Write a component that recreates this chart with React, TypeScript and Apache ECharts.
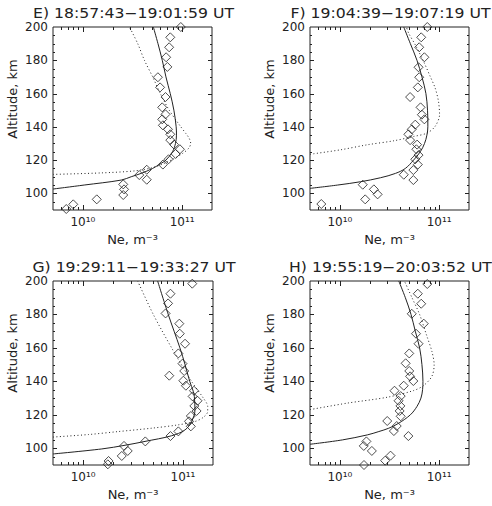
import React, { useEffect, useRef } from 'react';
import * as echarts from 'echarts';

// ---- axis ranges ----
const X_MIN = 5e9;
const X_MAX = 2e11;
const Y_MIN = 90;
const Y_MAX = 200;

// tick positions drawn inside the frame (all four sides)
const xMajorTicks = [1e10, 1e11];
const xMinorTicks = [6e9, 7e9, 8e9, 9e9, 2e10, 3e10, 4e10, 5e10, 6e10, 7e10, 8e10, 9e10];
const yMajorTicks = [100, 120, 140, 160, 180];
const yMinorTicks = [95, 105, 110, 115, 125, 130, 135, 145, 150, 155, 165, 170, 175, 185, 190, 195];

const titles = [
  'E) 18:57:43\u221219:01:59 UT',
  'F) 19:04:39\u221219:07:19 UT',
  'G) 19:29:11\u221219:33:27 UT',
  'H) 19:55:19\u221220:03:52 UT',
];

// ---- E ----
const obsAltE = [200, 193.8, 187.8, 181.8, 176, 169.8, 163.7, 157.9, 151.7, 147.5, 144.5, 140.9, 138.5, 135.5, 132, 129.3, 126.5, 123.7, 120.5, 117.3, 114.2, 111, 108.2, 105.4, 102.4, 99, 96.4, 93.4, 90.6];
const obsNeE = [9.7e10, 7.6e10, 7.4e10, 6.9e10, 7.1e10, 5.7e10, 6.0e10, 6.8e10, 6.3e10, 6.8e10, 6.3e10, 6.4e10, 7.2e10, 7.6e10, 7.6e10, 8.3e10, 9.5e10, 8.6e10, 7.3e10, 6.4e10, 4.4e10, 3.7e10, 4.4e10, 2.55e10, 2.6e10, 2.55e10, 1.38e10, 8.0e9, 6.8e9];
const solidAltE = [102.6, 105, 108, 110, 112, 115, 118, 120, 125, 130, 135, 140, 150, 160, 170, 180, 190, 200];
const solidNeE = [5.0e9, 1.03e10, 2.44e10, 3.07e10, 3.86e10, 5.05e10, 6.12e10, 6.87e10, 8.0e10, 8.57e10, 8.77e10, 8.71e10, 8.26e10, 7.59e10, 6.87e10, 6.31e10, 5.71e10, 5.13e10];
const dottedAltE = [111.4, 112.3, 113.5, 115.5, 118, 121, 124, 127, 130, 133, 136, 140, 150, 160, 170, 180, 190, 200];
const dottedNeE = [5.0e9, 1.54e10, 3.31e10, 5.05e10, 6.61e10, 8.32e10, 1.01e11, 1.16e11, 1.22e11, 1.18e11, 1.09e11, 9.7e10, 7.41e10, 6.03e10, 5.05e10, 4.17e10, 3.57e10, 2.95e10];

// ---- F ----
const obsAltF = [200, 193.8, 187.8, 181.8, 175.8, 169.8, 163.7, 157.9, 151.7, 147.3, 144.5, 141.3, 138.5, 135.5, 132, 129.3, 126.5, 123, 120.5, 117.3, 114, 111.2, 108, 105.2, 102.4, 99.4, 96.4, 93.6];
const obsNeF = [7.6e10, 6.6e10, 6.3e10, 7.1e10, 6.2e10, 6.3e10, 6.1e10, 5.1e10, 6.5e10, 6.7e10, 7.1e10, 5.75e10, 5.3e10, 4.9e10, 5.1e10, 6.0e10, 5.9e10, 6.2e10, 5.75e10, 6.1e10, 5.5e10, 4.4e10, 5.5e10, 1.7e10, 2.2e10, 2.4e10, 1.8e10, 6.5e9];
const solidAltF = [103, 105, 107, 109.4, 112, 115, 120, 125, 130, 135, 140, 150, 160, 170, 180, 190, 200];
const solidNeF = [5.0e9, 9.5e9, 1.62e10, 2.57e10, 3.63e10, 4.57e10, 5.53e10, 6.46e10, 7.13e10, 7.53e10, 7.7e10, 7.64e10, 7.36e10, 6.71e10, 5.98e10, 5.13e10, 4.4e10];
const dottedAltF = [123.5, 126.2, 129.2, 131.6, 134.2, 136.2, 140.3, 147.3, 155.3, 163.3, 170.3, 179.3, 189.3, 196.3, 200];
const dottedNeF = [5.0e9, 1.02e10, 1.89e10, 3.49e10, 5.53e10, 7.53e10, 9.12e10, 1.01e11, 9.85e10, 9.12e10, 8.13e10, 6.97e10, 5.75e10, 4.93e10, 4.68e10];

// ---- G ----
const obsAltG = [198.4, 192.4, 186.6, 180.6, 174.5, 168.5, 162.5, 156.7, 150.6, 146.2, 143.4, 140.4, 137.4, 134.4, 131, 128.4, 125.3, 122.3, 119.3, 116.1, 113.1, 110.1, 107.3, 104.1, 101.4, 98.4, 95.4, 92.4, 90.4];
const obsNeG = [1.24e11, 7.5e10, 7.1e10, 6.7e10, 9.2e10, 9.3e10, 1.05e11, 9.0e10, 9.9e10, 1.03e11, 7.3e10, 1.01e11, 1.07e11, 1.29e11, 1.25e11, 1.4e11, 1.3e11, 1.37e11, 1.2e11, 1.15e11, 1.2e11, 9.0e10, 7.5e10, 4.2e10, 2.57e10, 2.8e10, 2.44e10, 1.8e10, 1.77e10];
const solidAltG = [96.6, 99.6, 101.8, 104.1, 107.5, 111, 116, 123, 131, 134, 140, 150, 160, 180, 200];
const solidNeG = [5.0e9, 1.54e10, 2.63e10, 4.17e10, 7.71e10, 1.05e11, 1.22e11, 1.32e11, 1.3e11, 1.27e11, 1.17e11, 1.05e11, 9.33e10, 7.13e10, 5.58e10];
const dottedAltG = [106.7, 108.2, 110, 112, 114, 116, 118.5, 122, 125, 130, 140, 160, 180, 200];
const dottedNeG = [5.0e9, 1.13e10, 2.26e10, 4.86e10, 8.98e10, 1.32e11, 1.6e11, 1.77e11, 1.77e11, 1.6e11, 1.22e11, 7.71e10, 5.05e10, 3.52e10];

// ---- H ----
const obsAltH = [198.2, 192.4, 186.4, 180.4, 174.5, 168.5, 162.5, 156.7, 150.8, 146.2, 143, 140.2, 137.4, 134.4, 131.2, 128.4, 125.3, 122.3, 119.1, 116.3, 113.3, 110.3, 107.3, 104.1, 101.4, 98.4, 95.6, 92.6, 90];
const obsNeH = [7.6e10, 6.1e10, 6.6e10, 5.3e10, 7.0e10, 5.85e10, 6.2e10, 5.0e10, 4.6e10, 5.0e10, 5.1e10, 5.5e10, 4.4e10, 3.55e10, 4.1e10, 3.9e10, 4.07e10, 4.0e10, 4.1e10, 3.0e10, 3.74e10, 3.5e10, 4.9e10, 1.85e10, 1.74e10, 2.1e10, 3.24e10, 2.86e10, 1.75e10];
const solidAltH = [102.4, 105, 108, 110, 112, 115, 120, 125, 130, 135, 140, 150, 160, 170, 180, 190, 200];
const solidNeH = [5.0e9, 1.06e10, 1.89e10, 2.47e10, 3.11e10, 3.92e10, 5.13e10, 5.98e10, 6.56e10, 6.81e10, 6.87e10, 6.71e10, 6.36e10, 5.75e10, 5.21e10, 4.57e10, 3.92e10];
const dottedAltH = [123.1, 127, 130.5, 134.5, 137.5, 143, 150, 158, 167, 180, 190, 200];
const dottedNeH = [5.0e9, 1.19e10, 3.0e10, 5.53e10, 6.97e10, 8.45e10, 8.91e10, 8.45e10, 7.53e10, 6.36e10, 5.33e10, 4.47e10];

const panels = [
  { obsAlt: obsAltE, obsNe: obsNeE, solidAlt: solidAltE, solidNe: solidNeE, dottedAlt: dottedAltE, dottedNe: dottedNeE },
  { obsAlt: obsAltF, obsNe: obsNeF, solidAlt: solidAltF, solidNe: solidNeF, dottedAlt: dottedAltF, dottedNe: dottedNeF },
  { obsAlt: obsAltG, obsNe: obsNeG, solidAlt: solidAltG, solidNe: solidNeG, dottedAlt: dottedAltG, dottedNe: dottedNeG },
  { obsAlt: obsAltH, obsNe: obsNeH, solidAlt: solidAltH, solidNe: solidNeH, dottedAlt: dottedAltH, dottedNe: dottedNeH },
];

// plot frames: left, top, width, height (px)
const boxes = [
  [53, 27, 159, 183],
  [310, 27, 159, 183],
  [53, 281, 160, 184],
  [310, 281, 159, 184],
];

const INK = '#222';
const FONT = '"DejaVu Sans", "Liberation Sans", sans-serif';

const SUP: Record<string, string> = {
  '0': '\u2070', '1': '\u00b9', '2': '\u00b2', '3': '\u00b3', '4': '\u2074',
  '5': '\u2075', '6': '\u2076', '7': '\u2077', '8': '\u2078', '9': '\u2079', '-': '\u207b',
};
const sup = (n: number) => String(n).split('').map((c) => SUP[c] || c).join('');

const pairs = (xs: number[], ys: number[]) => xs.map((x, k) => [x, ys[k]]);

const seg = (x1: number, y1: number, x2: number, y2: number) => ({
  type: 'line',
  shape: { x1, y1, x2, y2 },
  style: { stroke: INK, lineWidth: 1 },
});

function tickSeries(i: number) {
  return {
    type: 'custom',
    xAxisIndex: i,
    yAxisIndex: i,
    silent: true,
    z: 10,
    data: [[1e10, 150]],
    renderItem: (_p: any, api: any) => {
      const [xl, yb] = api.coord([X_MIN, Y_MIN]);
      const [xr, yt] = api.coord([X_MAX, Y_MAX]);
      const out: any[] = [];
      xMajorTicks.forEach((v) => {
        const x = Math.round(api.coord([v, Y_MIN])[0]) + 0.5;
        out.push(seg(x, yb, x, yb - 5), seg(x, yt, x, yt + 5));
      });
      xMinorTicks.forEach((v) => {
        const x = Math.round(api.coord([v, Y_MIN])[0]) + 0.5;
        out.push(seg(x, yb, x, yb - 3), seg(x, yt, x, yt + 3));
      });
      yMajorTicks.forEach((v) => {
        const y = Math.round(api.coord([X_MIN, v])[1]) + 0.5;
        out.push(seg(xl, y, xl + 4, y), seg(xr, y, xr - 4, y));
      });
      yMinorTicks.forEach((v) => {
        const y = Math.round(api.coord([X_MIN, v])[1]) + 0.5;
        out.push(seg(xl, y, xl + 2, y), seg(xr, y, xr - 2, y));
      });
      return { type: 'group', children: out };
    },
  };
}

function buildOption() {
  const grid = boxes.map(([left, top, width, height]) => ({
    left, top, width, height,
    show: true,
    borderColor: INK,
    borderWidth: 1,
    backgroundColor: 'transparent',
  }));

  const xAxis = boxes.map((_b, i) => ({
    type: 'log',
    logBase: 10,
    gridIndex: i,
    min: X_MIN,
    max: X_MAX,
    axisLine: { show: false },
    axisTick: { show: false },
    splitLine: { show: false },
    axisLabel: {
      color: INK,
      fontFamily: FONT,
      fontSize: 12,
      margin: 6,
      formatter: (v: number) => {
        const e = Math.log10(v);
        const r = Math.round(e);
        return Math.abs(e - r) < 1e-6 ? '10' + sup(r) : '';
      },
    },
  }));

  const yAxis = boxes.map((_b, i) => ({
    type: 'value',
    gridIndex: i,
    min: Y_MIN,
    max: Y_MAX,
    splitNumber: 5,
    axisLine: { show: false },
    axisTick: { show: false },
    splitLine: { show: false },
    axisLabel: {
      color: INK,
      fontFamily: FONT,
      fontSize: 12,
      margin: 5,
      formatter: (v: number) => (v >= 100 && v % 20 === 0 ? String(v) : ''),
    },
  }));

  const series: any[] = [];
  panels.forEach((p, i) => {
    series.push({
      type: 'line',
      xAxisIndex: i,
      yAxisIndex: i,
      data: pairs(p.solidNe, p.solidAlt),
      showSymbol: false,
      symbol: 'none',
      smooth: 0.35,
      clip: true,
      lineStyle: { color: INK, width: 1 },
      silent: true,
    });
    series.push({
      type: 'line',
      xAxisIndex: i,
      yAxisIndex: i,
      data: pairs(p.dottedNe, p.dottedAlt),
      showSymbol: false,
      symbol: 'none',
      smooth: 0.3,
      clip: true,
      lineStyle: { color: INK, width: 1, type: [1, 2.5] },
      silent: true,
    });
    series.push({
      type: 'scatter',
      xAxisIndex: i,
      yAxisIndex: i,
      data: pairs(p.obsNe, p.obsAlt),
      symbol: 'diamond',
      symbolSize: 9,
      itemStyle: { color: 'rgba(0,0,0,0)', borderColor: INK, borderWidth: 1 },
      silent: true,
      z: 3,
    });
    series.push(tickSeries(i));
  });

  const graphic: any[] = [];
  boxes.forEach(([left, top, width, height], i) => {
    const cx = left + width / 2;
    graphic.push({
      type: 'text',
      x: cx + 1,
      y: top - 14,
      scaleX: 1.12,
      silent: true,
      style: {
        text: titles[i],
        fill: INK,
        font: `14px ${FONT}`,
        align: 'center',
        verticalAlign: 'middle',
        textAlign: 'center',
        textVerticalAlign: 'middle',
      },
    });
    graphic.push({
      type: 'text',
      x: left - 41,
      y: top + 72,
      rotation: Math.PI / 2,
      silent: true,
      style: {
        text: 'Altitude, km',
        fill: INK,
        font: `13px ${FONT}`,
        align: 'center',
        verticalAlign: 'middle',
        textAlign: 'center',
        textVerticalAlign: 'middle',
      },
    });
    graphic.push({
      type: 'text',
      x: cx,
      y: top + height + 29,
      silent: true,
      style: {
        text: 'Ne, m' + sup(-3),
        fill: INK,
        font: `13px ${FONT}`,
        align: 'center',
        verticalAlign: 'middle',
        textAlign: 'center',
        textVerticalAlign: 'middle',
      },
    });
  });

  return {
    animation: false,
    backgroundColor: '#ffffff',
    grid,
    xAxis,
    yAxis,
    series,
    graphic,
  };
}

export default function App() {
  const ref = useRef<HTMLDivElement>(null);
  useEffect(() => {
    if (!ref.current) return;
    const chart = echarts.init(ref.current, null, { renderer: 'svg' });
    chart.setOption(buildOption() as any);
    return () => chart.dispose();
  }, []);
  return (
    <div
      ref={ref}
      style={{ position: 'fixed', left: 0, top: 0, width: 492, height: 506, background: '#fff' }}
    />
  );
}
